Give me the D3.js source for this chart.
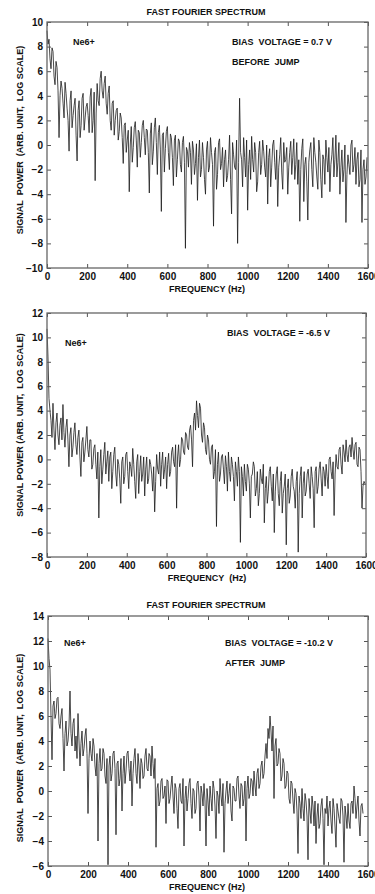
<!DOCTYPE html>
<html><head><meta charset="utf-8">
<script src="https://cdn.jsdelivr.net/npm/d3@7"></script>
<style>html,body{margin:0;padding:0;background:#fff;}svg{display:block;}</style>
</head><body>
<svg id="c" width="375" height="894"></svg>
<script>
// Frequency bins (Hz) are uniform FFT bins of 5 Hz
const binHz = 5;
const xTicks = [0, 200, 400, 600, 800, 1000, 1200, 1400, 1600];
const yTicks1 = [-10, -8, -6, -4, -2, 0, 2, 4, 6, 8, 10];
const yTicks2 = [-8, -6, -4, -2, 0, 2, 4, 6, 8, 10, 12];
const yTicks3 = [-6, -4, -2, 0, 2, 4, 6, 8, 10, 12, 14];

// Panel 1: bias 0.7 V, before jump (log signal power, 0..1595 Hz)
const power1 = [
 9.3,8.2, 8.6,7.0, 6.2,7.9, 7.6,5.6, 4.9,6.8, 6.3,4.4, 0.6,4.0, 5.2,4.6, 3.4,2.2, 5.1,4.2,
 3.0,2.0, -0.5,3.6, 4.4,1.4, 2.4,3.2, 3.8,0.8, -1.3,2.8, 3.6,0.6, 1.6,3.8, 4.2,1.2, 2.2,3.1,
 3.4,2.4, 1.0,3.9, 4.6,1.0, 2.0,4.3, -2.9,2.6, 5.0,3.6, 3.2,5.4, 6.0,4.4, 3.8,5.0, 5.6,3.4,
 2.5,4.2, 4.8,2.0, 1.2,3.4, 3.6,0.8, 2.0,2.8, 3.0,0.4, 1.1,2.6, 2.2,0.6, -1.5,1.6, 1.8,-0.6,
 0.4,1.2, -3.8,0.0, 1.5,-1.4, -0.2,1.4, 1.9,0.4, -1.8,1.2, 1.0,-1.0, 0.2,1.6, 2.0,0.6, -0.8,1.3,
 1.2,-0.6, -3.9,0.9, 1.8,-1.6, -0.5,1.4, 2.2,0.2, -2.4,1.0, 1.6,-0.4, -5.4,0.8, 1.0,-2.2, -0.3,1.1,
 1.5,-0.6, -2.0,0.9, 0.6,-1.0, -3.3,0.4, 0.8,-2.6, -1.2,0.5, 0.3,-1.6, -2.2,0.2, 0.7,-1.4, -8.4,-0.2,
 -0.5,-1.8, 0.2,-0.6, -3.2,0.3, -0.4,-2.4, -1.5,0.1, -4.5,-1.0, 0.4,-2.6, -2.0,0.2, -1.0,-2.8, -4.0,-0.4,
 0.3,-2.2, -1.8,0.6, -0.6,-1.6, -6.6,-0.6, -0.2,-3.6, -2.4,0.2, 0.5,-2.0, -1.5,-0.2, -3.4,-1.2, -0.4,-3.0,
 -2.5,-1.2, 0.8,-2.8, -5.6,0.2, -0.8,-1.8, -2.0,0.4, -8.0,-1.4, 3.8,-0.6, -1.2,-3.4, 0.6,-1.0, -2.6,0.4,
 -5.3,-1.6, -0.4,-2.8, 0.7,-1.2, -2.2,0.2, -0.6,-3.8, -3.0,-0.6, 0.3,-2.4, -1.6,0.4, -0.5,-1.8, -2.6,0.0,
 -4.8,-1.0, -0.3,-3.4, -1.8,0.0, 0.4,-1.4, -2.8,-0.4, -5.0,-1.8, -0.8,0.6, -2.2,-3.6, 0.2,-1.4, -1.2,-0.2,
 -4.0,-1.8, -0.6,0.3, -2.4,-1.0, 0.5,-2.8, -1.6,0.2, -3.2,-1.2, -6.2,-2.0, -0.3,0.5, -4.6,-1.6, -1.0,-3.0,
 -6.1,-1.4, -0.4,0.2, -2.0,-3.4, 0.6,-0.6, -1.4,-2.6, -3.6,0.4, -0.6,-2.8, -4.3,-0.8, -1.2,-3.2, 0.4,-1.0,
 -2.2,-0.2, -3.8,-1.6, -0.8,0.6, -2.6,-1.2, 0.8,-2.6, -1.4,0.2, -4.0,-1.8, -0.4,-3.0, -2.0,0.0, -6.3,-2.4,
 -0.8,-1.6, -2.4,0.0, 0.4,-2.2, -1.6,-0.2, -3.2,-1.2, -0.6,-3.4, -2.8,-0.4, -6.3,-2.0, -1.2,-3.2, -2.6,-1.0
];

// Panel 2: bias -6.5 V (0..1595 Hz)
const power2 = [
 10.7,8.4, 5.0,4.0, 3.2,1.8, 4.6,2.4, 0.8,3.0, 3.8,2.0, 1.2,2.8, 3.4,1.6, 4.5,2.2, 1.0,2.6,
 3.3,1.6, -0.6,2.0, 2.6,0.2, 1.0,2.2, 3.0,1.2, 0.4,1.8, 2.4,0.2, -1.4,1.4, 1.8,-0.2, 0.6,1.6,
 2.7,0.8, 0.2,1.6, 1.6,-0.8, -0.4,0.9, 1.2,-0.4, -1.6,0.6, -4.8,-0.6, 0.8,-2.0, -0.8,0.4, 1.4,-1.2,
 -0.2,0.7, -1.8,0.2, 0.6,-2.4, -1.0,0.4, 1.0,-1.2, -2.2,0.0, -0.4,-1.6, -3.6,-0.2, 0.2,-2.0, -1.4,0.4,
 0.6,-1.0, -2.4,-0.2, -0.6,-1.4, 0.9,-0.4, -1.8,-3.2, -0.2,0.4, -2.8,-1.0, 0.3,-1.8, -1.2,0.2, -3.0,-0.8,
 0.2,-2.0, -1.6,0.0, -0.4,-1.2, -2.6,-0.6, -4.3,-1.8, 0.4,-0.8, -1.2,0.6, -2.2,-0.4, 0.6,-1.6, -0.8,0.2,
 -2.4,-0.4, 0.5,-1.4, -1.0,0.6, 1.0,-0.2, -0.6,1.2, -4.0,0.2, 1.2,-0.6, 0.0,1.8, 1.6,0.6, 0.4,2.2,
 2.0,1.0, 0.8,2.4, 2.8,1.6, -0.6,3.2, 3.8,2.4, 4.8,3.6, 2.6,4.6, 4.2,2.0, 1.4,3.0, 2.6,0.8,
 0.4,2.0, 1.6,0.0, -0.4,1.0, 1.2,-1.6, -1.0,0.8, -5.5,-0.4, 0.6,-1.8, -1.2,0.2, 0.4,-0.8, -2.0,0.3,
 -0.6,-2.6, 0.6,-1.0, -1.8,0.2, -0.4,-1.4, -3.4,-0.2, -1.0,-2.2, 0.2,-1.0, -6.8,-0.6, -1.4,-3.0, -0.4,-1.8,
 -2.6,-0.4, -0.8,-2.0, -4.8,-1.4, -1.2,-0.2, -0.6,-3.0, -2.4,-1.0, -3.8,-2.8, -0.8,-1.6, -2.0,-0.4, -5.2,-2.4,
 -1.4,-3.6, -2.6,-1.0, -0.6,-2.2, -3.4,-1.2, -6.0,-2.6, -1.2,-0.6, -2.8,-3.8, -1.8,-1.0, -4.4,-2.8, -2.2,-1.2,
 -7.0,-2.4, -1.6,-3.6, -3.0,-1.4, -0.8,-2.2, -2.6,-4.0, -1.8,-1.0, -7.6,-2.8, -1.4,-0.6, -4.8,-2.0, -1.0,-3.0,
 -2.6,-1.2, -0.8,-2.0, -3.2,-0.6, -1.4,-2.4, -5.6,-1.0, -0.6,-2.8, -2.2,-0.8, -0.2,-1.6, -3.0,-0.6, -1.0,-2.2,
 -0.4,-1.4, -2.4,0.0, 0.2,-1.0, -1.6,-0.2, -4.6,-1.2, 0.4,-0.6, -0.8,0.8, 1.0,-0.4, -1.2,1.2, 0.6,-0.2,
 1.6,0.4, -0.2,1.0, 1.2,0.2, 1.8,0.8, 0.0,1.2, 1.4,-0.4, -0.6,1.0, 0.8,-1.0, -4.0,-2.2, -1.8,-2.0
];

// Panel 3: bias -10.2 V, after jump (0..1575 Hz)
const power3 = [
 12.2,10.6, 9.7,6.0, 2.5,6.8, 7.2,5.8, 6.2,7.4, 7.5,5.4, 5.0,6.0, 6.6,4.2, 1.6,4.6, 5.6,3.6,
 4.0,5.2, 8.0,4.6, 3.6,5.4, 5.8,3.2, 4.4,2.6, 6.2,4.0, 2.0,3.8, 4.8,2.8, 3.4,4.4, 5.0,3.0,
 -1.8,2.6, 4.0,3.0, 2.4,4.2, 3.6,2.0, 1.2,3.0, -4.0,2.2, 3.4,1.6, 1.8,3.4, 3.0,1.2, 0.6,2.6,
 -5.9,2.0, 2.8,0.8, 1.4,3.0, 3.2,1.8, -3.5,2.2, 2.4,0.4, 1.0,2.6, -1.6,1.4, 2.8,0.6, 1.6,3.0,
 3.2,1.8, 0.8,2.4, -1.2,1.4, 2.6,3.4, 1.4,0.6, 3.0,2.0, 0.2,2.6, 2.2,1.0, 1.2,2.8, 3.4,1.8,
 1.6,3.0, 2.8,1.2, 3.6,2.2, 1.0,2.6, -4.5,0.2, 0.6,-1.2, -0.8,0.8, 1.0,-0.6, -0.4,0.4, -2.6,0.9,
 0.8,-1.0, -0.6,0.4, 1.2,-0.4, -1.8,0.6, 0.2,-1.4, -3.0,0.2, 0.6,-0.8, -1.0,1.0, -4.4,-0.6, 0.4,-1.6,
 -0.6,0.6, 1.0,-1.0, -2.2,0.2, 0.0,-1.8, -1.4,0.6, 0.8,-0.4, -3.2,0.4, -0.2,-1.2, 0.6,-0.8, -4.4,0.2,
 -0.8,-2.0, 0.4,-0.6, -1.6,0.8, 0.2,-1.2, -3.8,0.0, -0.4,-1.8, 1.0,-0.4, -1.2,0.6, -4.9,-1.0, 0.0,0.8,
 -1.0,-0.2, 0.6,-1.6, -2.4,0.4, 0.2,-0.8, -0.8,1.0, 1.2,-0.4, -1.4,0.6, 0.4,-1.2, -0.6,0.8, -4.0,0.2,
 1.2,-0.6, -0.2,1.0, 0.8,-0.4, 1.6,0.4, -0.4,1.4, 1.8,0.2, 0.6,2.0, 2.4,1.0, 1.4,2.8, 3.8,2.6,
 5.0,4.2, 6.0,4.8, 3.2,5.2, -0.6,3.6, 4.2,2.0, 2.2,3.4, 3.0,0.8, 1.2,2.6, 2.2,0.2, 0.4,1.6,
 1.4,-0.6, -1.0,0.8, 0.6,-0.8, -1.8,0.2, -0.2,-1.6, -5.0,-0.4, -1.0,-2.2, 0.2,-1.4, -2.4,-0.2, -0.8,-2.0,
 -5.5,-0.6, -1.6,-2.6, -0.4,-1.2, -2.8,-0.8, -4.2,-2.0, -1.0,-3.0, -2.6,-1.2, -0.6,-2.2, -5.9,-1.4, -1.8,-0.4,
 -2.8,-1.4, -0.8,-2.4, -3.4,-0.6, -1.4,-2.8, -4.5,-1.0, -1.6,-2.2, -2.6,-0.6, -0.8,-2.0, -5.7,-1.2, -2.0,-3.0,
 -1.0,-2.4, -3.0,-1.0, -0.8,-1.8, 0.4,-0.6, -2.2,-1.2, -0.4,-2.4, -3.6,-1.2, -1.0,-1.8
];

const svg = d3.select("#c");
const FONT = "'Liberation Sans', Arial, sans-serif";

function panel(cfg) {
  const x = d3.scaleLinear().domain([0, 1600]).range([cfg.x0, cfg.x1]);
  const y = d3.scaleLinear().domain(cfg.yDomain).range([cfg.yBot, cfg.yTop]);
  const g = svg.append("g");
  const data = cfg.values.map((v, i) => ({ f: i * binHz, p: v }));

  // data line
  g.append("path").datum(data)
    .attr("fill", "none").attr("stroke", "#1c1c1c").attr("stroke-width", 0.8)
    .attr("stroke-linejoin", "round")
    .attr("d", d3.line().x(d => x(d.f)).y(d => y(d.p)));

  const axStyle = sel => {
    sel.select(".domain").remove();
    sel.selectAll(".tick line").attr("stroke", "#555").attr("stroke-width", 1);
    sel.selectAll("text").attr("font-family", FONT).attr("font-size", 10).attr("font-weight", "bold").attr("fill", "#111");
  };
  g.append("g").attr("transform", `translate(0,${cfg.yBot})`)
    .call(d3.axisBottom(x).tickValues(xTicks).tickSizeInner(-4).tickSizeOuter(0).tickPadding(5).tickFormat(d3.format("d")))
    .call(axStyle);
  g.append("g").attr("transform", `translate(0,${cfg.yTop})`)
    .call(d3.axisTop(x).tickValues(xTicks).tickSizeInner(-4).tickSizeOuter(0).tickFormat(""))
    .call(axStyle);
  g.append("g").attr("transform", `translate(${cfg.x0},0)`)
    .call(d3.axisLeft(y).tickValues(cfg.yTicks).tickSizeInner(-4).tickSizeOuter(0).tickPadding(4).tickFormat(d3.format("d")))
    .call(axStyle);
  g.append("g").attr("transform", `translate(${cfg.x1},0)`)
    .call(d3.axisRight(y).tickValues(cfg.yTicks).tickSizeInner(-4).tickSizeOuter(0).tickFormat(""))
    .call(axStyle);

  g.append("rect").attr("x", cfg.x0).attr("y", cfg.yTop)
    .attr("width", cfg.x1 - cfg.x0).attr("height", cfg.yBot - cfg.yTop)
    .attr("fill", "none").attr("stroke", "#666").attr("stroke-width", 1.3);

  const txt = (t, tx, ty, anchor, extra) => {
    const e = g.append("text").attr("x", tx).attr("y", ty)
      .attr("text-anchor", anchor || "start").attr("dominant-baseline", "central")
      .attr("font-family", FONT).attr("font-size", 9).attr("font-weight", "bold")
      .attr("fill", "#111").attr("xml:space", "preserve").style("white-space", "pre").text(t);
    if (extra) extra(e);
    return e;
  };
  if (cfg.title) txt(cfg.title, 206, cfg.titleY, "middle");
  txt(cfg.xLabel, 207, cfg.yBot + 21, "middle");
  txt(cfg.yLabel, 0, 0, "middle", e => e.attr("transform", `translate(20,${cfg.yLabelC}) rotate(-90)`));
  txt("Ne6+", cfg.neX, cfg.neY, "start");
  cfg.notes.forEach((n, i) => txt(n, cfg.noteX, cfg.noteY + i * 20, "start"));
}

panel({ values: power1, x0: 47, x1: 368, yTop: 22, yBot: 268, yDomain: [-10, 10], yTicks: yTicks1,
  title: "FAST FOURIER SPECTRUM", titleY: 12, xLabel: "FREQUENCY (Hz)",
  yLabel: "SIGNAL  POWER  (ARB. UNIT,  LOG SCALE)", yLabelC: 140,
  neX: 73, neY: 42, notes: ["BIAS  VOLTAGE = 0.7 V", "BEFORE  JUMP"], noteX: 232, noteY: 42 });

panel({ values: power2, x0: 47, x1: 366, yTop: 313, yBot: 557, yDomain: [-8, 12], yTicks: yTicks2,
  title: null, xLabel: "FREQUENCY  (Hz)",
  yLabel: "SIGNAL POWER (ARB. UNIT,  LOG SCALE)", yLabelC: 425,
  neX: 65, neY: 343, notes: ["BIAS  VOLTAGE = -6.5 V"], noteX: 227, noteY: 333 });

panel({ values: power3, x0: 48, x1: 368, yTop: 616, yBot: 866, yDomain: [-6, 14], yTicks: yTicks3,
  title: "FAST FOURIER SPECTRUM", titleY: 605, xLabel: "FREQUENCY (Hz)",
  yLabel: "SIGNAL  POWER  (ARB. UNIT,  LOG SCALE)", yLabelC: 748,
  neX: 64, neY: 643, notes: ["BIAS  VOLTAGE = -10.2 V", "AFTER  JUMP"], noteX: 225, noteY: 643 });
</script>
</body></html>
